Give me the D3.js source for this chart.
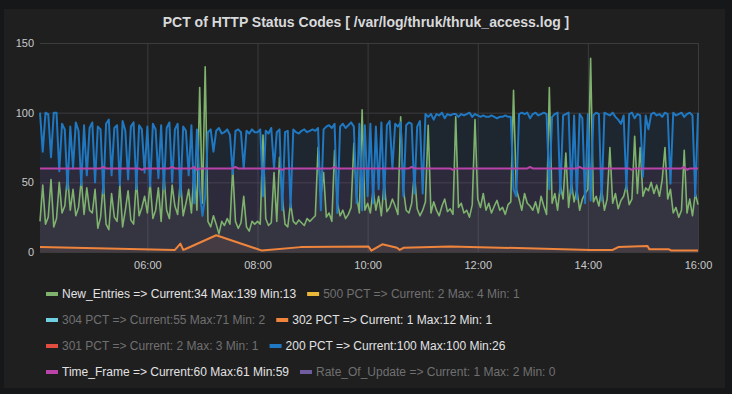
<!DOCTYPE html>
<html>
<head>
<meta charset="utf-8">
<script src="https://cdn.jsdelivr.net/npm/d3@7"></script>
<style>
  html, body { margin: 0; padding: 0; background: #161719; }
  svg { display: block; font-family: "Liberation Sans", Arial, sans-serif; }
</style>
</head>
<body>
<div id="wrapper"></div>
<script>
const title = "PCT of HTTP Status Codes [ /var/log/thruk/thruk_access.log ]"
const startTime = "04:03"
const endTime = "16:00"
const stepMinutes = 3
const xTicks = ["06:00", "08:00", "10:00", "12:00", "14:00", "16:00"]
const yTicks = [0, 50, 100, 150]

// one value every 3 minutes, 04:03 .. 16:00
const newEntries = [
  22, 48, 20, 25, 52, 18, 24, 50, 28, 33, 55, 30, 45, 26, 32, 52, 27, 46, 30,
  28, 45, 17, 25, 50, 20, 16, 42, 25, 22, 48, 18, 30, 44, 23, 20, 52, 26, 32, 40,
  28, 50, 24, 30, 46, 22, 55, 30, 24, 48, 33, 27, 52, 26, 35, 45, 28, 60, 30, 118,
  35, 133, 22, 18, 26, 20, 13, 22, 19, 24, 20, 60, 22, 17, 21, 40, 18, 15, 22, 20,
  22, 20, 84, 24, 19, 21, 57, 22, 68, 40, 20, 18, 35, 22, 20, 23, 21, 19, 24, 22,
  24, 26, 75, 40, 57, 25, 28, 22, 73, 35, 26, 30, 24, 27, 32, 78, 40, 28, 102, 30,
  35, 28, 45, 30, 40, 26, 50, 29, 32, 38, 33, 27, 97, 45, 30, 28, 35, 57, 31, 26,
  30, 36, 91, 28, 36, 30, 26, 33, 38, 29, 31, 27, 97, 32, 35, 28, 30, 25, 34, 95,
  38, 32, 42, 30, 35, 28, 33, 37, 30, 32, 27, 34, 36, 116, 45, 38, 30, 42, 35, 33,
  30, 36, 28, 40, 33, 27, 118, 35, 42, 30, 48, 38, 71, 32, 50, 36, 45, 30, 38, 42,
  45, 139, 36, 40, 33, 45, 30, 38, 75, 35, 42, 31, 37, 40, 48, 34, 38, 83, 42, 75,
  40, 46, 44, 50, 42, 48, 40, 52, 75, 38, 45, 28, 32, 25, 30, 73, 28, 38, 26, 42, 34
]

const pct200 = [
  100, 72, 100, 99, 68, 100, 100, 58, 92, 88, 45, 90, 60, 93, 87, 48, 91, 55, 89,
  93, 50, 90, 88, 42, 92, 95, 55, 89, 91, 48, 94, 87, 52, 90, 93, 45, 91, 88, 57,
  90, 47, 92, 88, 53, 91, 45, 89, 93, 50, 88, 92, 40, 90, 87, 55, 91, 35, 88, 45,
  26, 40, 86, 88, 72, 87, 89, 85, 86, 88, 84, 56, 87, 88, 86, 60, 87, 85, 88, 86,
  86, 88, 40, 87, 85, 89, 60, 86, 88, 30, 86, 87, 32, 88, 86, 85, 87, 88, 86, 87,
  88, 87, 89, 30, 88, 90, 91, 89, 92, 28, 90, 92, 89, 91, 93, 90, 35, 92, 30, 91,
  40, 92, 35, 90, 45, 93, 38, 91, 94, 60, 92, 90, 93, 40, 91, 93, 92, 42, 90, 94,
  42, 99, 97, 99, 95, 99, 98, 100, 96, 99, 98, 99, 99, 97, 99, 98, 99, 100, 97, 99,
  98, 97, 98, 97, 97, 98, 97, 96, 97, 97, 98, 97, 97, 45, 40, 99, 100, 99, 100, 96,
  99, 100, 98, 99, 100, 99, 45, 97, 99, 100, 42, 98, 99, 100, 42, 98, 38, 99, 96, 35,
  99, 37, 98, 100, 99, 37, 100, 99, 98, 100, 97, 95, 92, 98, 45, 99, 100, 96, 99, 98,
  54, 98, 88, 99, 100, 98, 99, 97, 100, 99, 49, 100, 98, 99, 100, 97, 99, 100, 98, 40, 100
]

// sparse series: [time, value]
const pct302 = [
  ["04:03", 3.5], ["06:30", 1.5], ["06:36", 6], ["06:39", 1.5], ["06:41", 2],
  ["07:15", 12], ["08:05", 1], ["08:47", 3.5], ["10:01", 4], ["10:04", 1],
  ["10:16", 5.5], ["10:32", 3], ["10:35", 1.5], ["10:39", 3], ["11:30", 4],
  ["14:03", 1.5], ["14:27", 1.5], ["14:33", 3.5], ["15:05", 4.3], ["15:07", 2],
  ["15:28", 2], ["15:31", 1], ["16:00", 1]
]

const timeFrame = [
  ["04:03", 60], ["05:09", 60], ["05:12", 61], ["05:15", 60], ["05:51", 60],
  ["05:54", 59], ["05:57", 60], ["06:24", 60], ["06:27", 61], ["06:30", 60],
  ["06:48", 60], ["06:51", 61], ["06:54", 59], ["06:57", 60], ["07:33", 60],
  ["07:36", 61], ["07:39", 60], ["08:24", 60], ["08:27", 59], ["08:30", 60],
  ["09:21", 60], ["09:24", 61], ["09:27", 60], ["10:45", 60], ["10:48", 61],
  ["10:51", 60], ["11:30", 60], ["11:33", 59], ["11:36", 60], ["12:54", 60],
  ["12:57", 61], ["13:00", 60], ["13:48", 60], ["13:51", 61], ["13:54", 60],
  ["14:45", 60], ["14:48", 59], ["14:51", 60], ["15:42", 60], ["15:45", 61],
  ["15:48", 59], ["15:51", 60], ["16:00", 60]
]

const legendNames = ["New_Entries", "500 PCT", "304 PCT", "302 PCT", "301 PCT", "200 PCT", "Time_Frame", "Rate_Of_Update"]
const legendStats = [
  "Current:34 Max:139 Min:13",
  "Current: 2 Max: 4 Min: 1",
  "Current:55 Max:71 Min: 2",
  "Current: 1 Max:12 Min: 1",
  "Current: 2 Max: 3 Min: 1",
  "Current:100 Max:100 Min:26",
  "Current:60 Max:61 Min:59",
  "Current: 1 Max: 2 Min: 0"
]
const legendVisible = [true, false, false, true, false, true, true, false]

const colors = {
  "New_Entries": "#7eb26d", "500 PCT": "#eab839", "304 PCT": "#6ed0e0", "302 PCT": "#ef843c",
  "301 PCT": "#e24d42", "200 PCT": "#1f78c1", "Time_Frame": "#ba43a9", "Rate_Of_Update": "#705da0"
}

function drawChart() {
  const width = 732
  const height = 394
  const dimensions = {
    width: width,
    height: height,
    margin: { top: 43, right: 34, bottom: 142, left: 40 }
  }
  dimensions.boundedWidth = width - dimensions.margin.left - dimensions.margin.right
  dimensions.boundedHeight = height - dimensions.margin.top - dimensions.margin.bottom

  const parseTime = d3.timeParse("%H:%M")
  const t0 = parseTime(startTime)
  const t1 = parseTime(endTime)
  const sampleTimes = newEntries.map((d, i) => d3.timeMinute.offset(t0, i * stepMinutes))

  const svg = d3.select("#wrapper")
    .append("svg")
      .attr("width", width)
      .attr("height", height)

  svg.append("rect")
    .attr("x", 4).attr("y", 9)
    .attr("width", 721).attr("height", 379)
    .attr("fill", "#1f1f20")

  svg.append("text")
    .text(title)
    .attr("x", width / 2)
    .attr("y", 27)
    .attr("text-anchor", "middle")
    .attr("font-size", 14)
    .attr("font-weight", "bold")
    .attr("fill", "#d8d9da")

  const bounds = svg.append("g")
    .attr("transform", `translate(${dimensions.margin.left},${dimensions.margin.top})`)

  const xScale = d3.scaleTime()
    .domain([t0, t1])
    .range([0, dimensions.boundedWidth])

  const yScale = d3.scaleLinear()
    .domain([0, 150])
    .range([dimensions.boundedHeight, 0])

  // grid
  const xAxis = bounds.append("g")
    .attr("transform", `translate(0,${dimensions.boundedHeight})`)
    .call(d3.axisBottom(xScale)
      .tickValues(xTicks.map(parseTime))
      .tickFormat(d3.timeFormat("%H:%M"))
      .tickSize(-dimensions.boundedHeight)
      .tickPadding(9))
  xAxis.select(".domain").remove()
  xAxis.selectAll("line").attr("stroke", "#3c3c3e")
  xAxis.selectAll("text")
    .attr("fill", "#c8c9ca")
    .attr("font-size", 11)
    .attr("font-family", "Liberation Sans, Arial, sans-serif")

  const yAxis = bounds.append("g")
    .call(d3.axisLeft(yScale)
      .tickValues(yTicks)
      .tickSize(-dimensions.boundedWidth)
      .tickPadding(6))
  yAxis.select(".domain").remove()
  yAxis.selectAll("line").attr("stroke", "#3c3c3e")
  yAxis.selectAll("text")
    .attr("fill", "#c8c9ca")
    .attr("font-size", 11)
    .attr("font-family", "Liberation Sans, Arial, sans-serif")

  const sampled = values => values.map((v, i) => [sampleTimes[i], v])
  const paired = values => values.map(d => [parseTime(d[0]), d[1]])

  const series = [
    { name: "New_Entries", data: sampled(newEntries), width: 1.6 },
    { name: "302 PCT", data: paired(pct302), width: 2 },
    { name: "200 PCT", data: sampled(pct200), width: 2 },
    { name: "Time_Frame", data: paired(timeFrame), width: 2 }
  ]

  const area = d3.area()
    .x(d => xScale(d[0]))
    .y0(yScale(0))
    .y1(d => yScale(d[1]))

  const line = d3.line()
    .x(d => xScale(d[0]))
    .y(d => yScale(d[1]))

  bounds.selectAll(".fill")
    .data(series)
    .enter().append("path")
      .attr("class", "fill")
      .attr("d", d => area(d.data))
      .attr("fill", d => colors[d.name])
      .attr("fill-opacity", 0.1)

  bounds.selectAll(".series")
    .data(series)
    .enter().append("path")
      .attr("class", "series")
      .attr("d", d => line(d.data))
      .attr("fill", "none")
      .attr("stroke", d => colors[d.name])
      .attr("stroke-width", d => d.width)
      .attr("stroke-linejoin", "round")

  // legend, flowing into rows
  const legend = svg.append("g")
  let lx = 46
  let ly = 298
  const maxX = 715
  legendNames.forEach((name, i) => {
    const item = legend.append("g")
    item.append("rect")
      .attr("width", 12).attr("height", 4)
      .attr("y", -6)
      .attr("fill", colors[name])
    const label = item.append("text")
      .text(`${name} => ${legendStats[i]}`)
      .attr("x", 16)
      .attr("font-size", 12)
      .attr("fill", legendVisible[i] ? "#e2e2e3" : "#707070")
    const w = 16 + label.node().getComputedTextLength()
    if (lx + w > maxX) {
      lx = 46
      ly += 26
    }
    item.attr("transform", `translate(${lx},${ly})`)
    lx += w + 11
  })
}

drawChart()
</script>
</body>
</html>
